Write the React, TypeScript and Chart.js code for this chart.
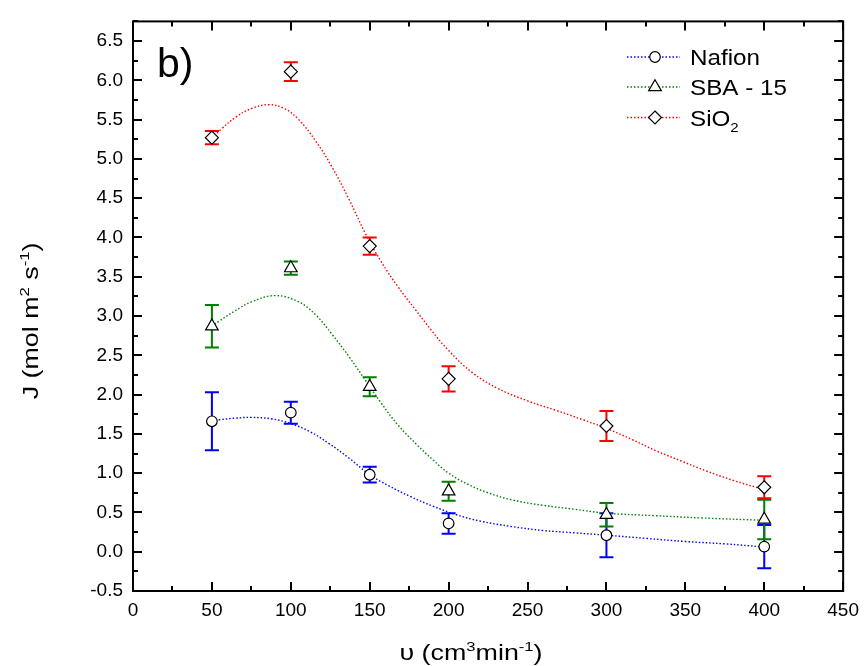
import React, { useEffect, useRef } from 'react';
import { Chart, registerables } from 'chart.js';

Chart.register(...registerables);

// ---- Data ----
const flowRates = [50, 100, 150, 200, 300, 400];

const nafionJ = [1.66, 1.77, 0.98, 0.36, 0.21, 0.065];
const nafionErr = [0.37, 0.14, 0.1, 0.13, 0.28, 0.275];

const sbaJ = [2.87, 3.61, 2.1, 0.77, 0.47, 0.41];
const sbaErr = [0.27, 0.085, 0.12, 0.12, 0.15, 0.25];

const sio2J = [5.27, 6.11, 3.89, 2.2, 1.6, 0.82];
const sio2Err = [0.085, 0.12, 0.11, 0.16, 0.19, 0.14];

// fitted (dotted) curves
const nafionFitX = [50, 55, 65, 75, 88, 100, 112, 124, 137, 150, 162, 176, 190, 205, 220, 240, 260, 280, 300, 325, 350, 375, 400];
const nafionFitY = [1.66, 1.68, 1.7, 1.71, 1.69, 1.63, 1.53, 1.38, 1.19, 0.98, 0.84, 0.7, 0.58, 0.47, 0.39, 0.32, 0.27, 0.24, 0.21, 0.17, 0.13, 0.1, 0.06];

const sbaFitX = [50, 55, 65, 75, 90, 105, 116, 126, 137, 147, 157, 168, 180, 190, 200, 212, 225, 240, 260, 280, 300, 330, 360, 400];
const sbaFitY = [2.87, 2.94, 3.07, 3.18, 3.26, 3.18, 3.01, 2.77, 2.48, 2.19, 1.9, 1.61, 1.36, 1.17, 1.0, 0.86, 0.75, 0.66, 0.59, 0.54, 0.49, 0.46, 0.43, 0.4];

const sio2FitX = [50, 56, 65, 75, 86, 96, 105, 116, 126, 137, 147, 157, 168, 179, 189, 200, 215, 231, 250, 268, 285, 300, 316, 332, 348, 363, 380, 400];
const sio2FitY = [5.27, 5.38, 5.53, 5.64, 5.69, 5.64, 5.5, 5.22, 4.9, 4.48, 4.06, 3.7, 3.37, 3.08, 2.82, 2.56, 2.28, 2.08, 1.92, 1.8, 1.68, 1.57, 1.43, 1.28, 1.15, 1.03, 0.91, 0.79];

const xTickStep = 50;
const yTickStep = 0.5;

const seriesNames = ['Nafion', 'SBA - 15', 'SiO'];
const seriesColors = ['#0000ff', '#008000', '#ff0000'];

const FONT = '"Liberation Sans", Arial, sans-serif';

type Part = { t: string; sup?: boolean; sub?: boolean };

function drawRich(ctx: CanvasRenderingContext2D, parts: Part[], x: number, y: number, size: number, sx: number, align: 'left' | 'center') {
  ctx.save();
  ctx.translate(x, y);
  ctx.scale(sx, 1);
  ctx.textBaseline = 'alphabetic';
  ctx.textAlign = 'left';
  let w = 0;
  for (const p of parts) {
    const fs = p.sup || p.sub ? size * 0.62 : size;
    ctx.font = `${fs}px ${FONT}`;
    w += ctx.measureText(p.t).width;
  }
  let cx = align === 'center' ? -w / 2 : 0;
  for (const p of parts) {
    const fs = p.sup || p.sub ? size * 0.62 : size;
    ctx.font = `${fs}px ${FONT}`;
    const dy = p.sup ? -size * 0.42 : p.sub ? size * 0.3 : 0;
    ctx.fillText(p.t, cx, dy);
    cx += ctx.measureText(p.t).width;
  }
  ctx.restore();
}

function drawMarker(ctx: CanvasRenderingContext2D, style: string, x: number, y: number, r: number) {
  ctx.save();
  ctx.beginPath();
  if (style === 'circle') {
    ctx.arc(x, y, r, 0, Math.PI * 2);
  } else if (style === 'triangle') {
    let rad = 0;
    ctx.moveTo(x + Math.sin(rad) * r, y - Math.cos(rad) * r);
    rad += (2 * Math.PI) / 3;
    ctx.lineTo(x + Math.sin(rad) * r, y - Math.cos(rad) * r);
    rad += (2 * Math.PI) / 3;
    ctx.lineTo(x + Math.sin(rad) * r, y - Math.cos(rad) * r);
    ctx.closePath();
  } else {
    ctx.moveTo(x, y - r);
    ctx.lineTo(x + r, y);
    ctx.lineTo(x, y + r);
    ctx.lineTo(x - r, y);
    ctx.closePath();
  }
  ctx.fillStyle = '#ffffff';
  ctx.fill();
  ctx.lineWidth = 1.2;
  ctx.strokeStyle = '#000000';
  ctx.stroke();
  ctx.restore();
}

const pointStyles = ['circle', 'triangle', 'rectRot'];
const pointRadii = [5.3, 7.3, 6.5];

const errorBarPlugin = {
  id: 'errorBars',
  beforeDatasetsDraw(chart: any) {
    const ctx = chart.ctx as CanvasRenderingContext2D;
    const xs = chart.scales.x;
    const ys = chart.scales.y;
    chart.data.datasets.forEach((ds: any) => {
      if (!ds.errors) return;
      ctx.save();
      ctx.strokeStyle = ds.errorColor;
      ctx.lineWidth = 2;
      ds.data.forEach((p: any, j: number) => {
        const e = ds.errors[j];
        const px = xs.getPixelForValue(p.x);
        const yt = ys.getPixelForValue(p.y + e);
        const yb = ys.getPixelForValue(p.y - e);
        ctx.beginPath();
        ctx.moveTo(px, yt);
        ctx.lineTo(px, yb);
        ctx.moveTo(px - 7, yt);
        ctx.lineTo(px + 7, yt);
        ctx.moveTo(px - 7, yb);
        ctx.lineTo(px + 7, yb);
        ctx.stroke();
      });
      ctx.restore();
    });
  },
};

const framePlugin = {
  id: 'frameTicks',
  afterDraw(chart: any) {
    const ctx = chart.ctx as CanvasRenderingContext2D;
    const { left, right, top, bottom } = chart.chartArea;
    const xs = chart.scales.x;
    const ys = chart.scales.y;
    ctx.save();
    ctx.strokeStyle = '#000';
    ctx.lineWidth = 2;
    ctx.strokeRect(left, top, right - left, bottom - top);
    const xMinor = xTickStep / 2;
    ctx.beginPath();
    for (let v = xs.min; v <= xs.max + 1e-9; v += xMinor) {
      const px = Math.round(xs.getPixelForValue(v));
      const major = Math.abs(v / xTickStep - Math.round(v / xTickStep)) < 1e-6;
      const len = major ? 9 : 5;
      ctx.moveTo(px, bottom);
      ctx.lineTo(px, bottom - len);
      ctx.moveTo(px, top);
      ctx.lineTo(px, top + len);
    }
    const yMinor = yTickStep / 2;
    for (let v = ys.min; v <= ys.max + 1e-9; v += yMinor) {
      const py = Math.round(ys.getPixelForValue(v));
      const major = Math.abs(v / yTickStep - Math.round(v / yTickStep)) < 1e-6;
      const len = major ? 9 : 5;
      ctx.moveTo(left, py);
      ctx.lineTo(left + len, py);
      ctx.moveTo(right, py);
      ctx.lineTo(right - len, py);
    }
    ctx.stroke();
    ctx.restore();

    // panel label
    ctx.save();
    ctx.fillStyle = '#000';
    ctx.font = `41px ${FONT}`;
    ctx.textBaseline = 'alphabetic';
    ctx.textAlign = 'left';
    ctx.fillText('b)', left + 24, top + 56);
    ctx.restore();

    // axis titles
    ctx.save();
    ctx.fillStyle = '#000';
    drawRich(ctx, [{ t: 'υ (cm' }, { t: '3', sup: true }, { t: 'min' }, { t: '-1', sup: true }, { t: ')' }], 471, 660, 22, 1.22, 'center');
    ctx.translate(38, 321);
    ctx.rotate(-Math.PI / 2);
    drawRich(ctx, [{ t: 'J (mol m' }, { t: '2', sup: true }, { t: ' s' }, { t: '-1', sup: true }, { t: ')' }], 0, 0, 22, 1.22, 'center');
    ctx.restore();

    // legend
    const rows = [57, 87, 117.5];
    ctx.save();
    for (let i = 0; i < 3; i++) {
      const y = rows[i];
      ctx.save();
      ctx.strokeStyle = seriesColors[i];
      ctx.lineWidth = 1.4;
      ctx.setLineDash([1.5, 2]);
      ctx.beginPath();
      ctx.moveTo(627, y);
      ctx.lineTo(680, y);
      ctx.stroke();
      ctx.restore();
      drawMarker(ctx, pointStyles[i], 655, y, pointRadii[i]);
      ctx.fillStyle = '#000';
      const parts: Part[] = i === 2 ? [{ t: seriesNames[i] }, { t: '2', sub: true }] : [{ t: seriesNames[i] }];
      drawRich(ctx, parts, 690, y + 8, 22, 1.1, 'left');
    }
    ctx.restore();
  },
};

function pts(xs: number[], ys: number[]) {
  return xs.map((x, i) => ({ x, y: ys[i] }));
}

export default function App() {
  const ref = useRef<HTMLCanvasElement | null>(null);

  useEffect(() => {
    document.body.style.margin = '0';
    const canvas = ref.current;
    if (!canvas) return;

    const fits = [
      pts(nafionFitX, nafionFitY),
      pts(sbaFitX, sbaFitY),
      pts(sio2FitX, sio2FitY),
    ];
    const vals = [nafionJ, sbaJ, sio2J];
    const errs = [nafionErr, sbaErr, sio2Err];

    const datasets: any[] = [];
    for (let i = 0; i < 3; i++) {
      datasets.push({
        label: seriesNames[i] + ' fit',
        data: fits[i],
        showLine: true,
        borderColor: seriesColors[i],
        borderWidth: 1.4,
        borderDash: [1.5, 2],
        pointRadius: 0,
        pointHoverRadius: 0,
        tension: 0.4,
        fill: false,
        order: 2,
      });
    }
    for (let i = 0; i < 3; i++) {
      datasets.push({
        label: seriesNames[i],
        data: pts(flowRates, vals[i]),
        errors: errs[i],
        errorColor: seriesColors[i],
        showLine: false,
        pointStyle: pointStyles[i],
        pointRadius: pointRadii[i],
        pointHoverRadius: pointRadii[i],
        pointBackgroundColor: '#ffffff',
        pointBorderColor: '#000000',
        pointBorderWidth: 1.2,
        order: 1,
      });
    }

    const tickFont = { family: FONT, size: 19 };

    const chart = new Chart(canvas, {
      type: 'scatter',
      data: { datasets },
      options: {
        animation: false,
        responsive: false,
        devicePixelRatio: 1,
        layout: { padding: { top: 14, right: 19, left: 0, bottom: 0 } },
        plugins: { legend: { display: false }, tooltip: { enabled: false } },
        events: [],
        scales: {
          x: {
            type: 'linear',
            min: 0,
            max: 450,
            grid: { display: false, drawTicks: false },
            border: { display: false },
            ticks: { stepSize: xTickStep, font: tickFont, color: '#000', padding: 8, maxRotation: 0, autoSkip: false },
            afterFit: (s: any) => { s.height = 75; },
          },
          y: {
            type: 'linear',
            min: -0.5,
            max: 6.75,
            grid: { display: false, drawTicks: false },
            border: { display: false },
            ticks: {
              font: tickFont,
              color: '#000',
              padding: 10,
              autoSkip: false,
              callback: (v: any) => Number(v).toFixed(1),
            },
            afterBuildTicks: (s: any) => {
              const out: any[] = [];
              const start = Math.ceil(s.min / yTickStep - 1e-9) * yTickStep;
              for (let v = start; v <= s.max + 1e-9; v += yTickStep) {
                out.push({ value: Math.round(v * 100) / 100 });
              }
              s.ticks = out;
            },
            afterFit: (s: any) => { s.width = 133; },
          },
        },
      } as any,
      plugins: [errorBarPlugin, framePlugin],
    });

    return () => chart.destroy();
  }, []);

  return (
    <div style={{ width: 867, height: 666, background: '#fff' }}>
      <canvas ref={ref} width={867} height={666} style={{ display: 'block', width: 867, height: 666 }} />
    </div>
  );
}
